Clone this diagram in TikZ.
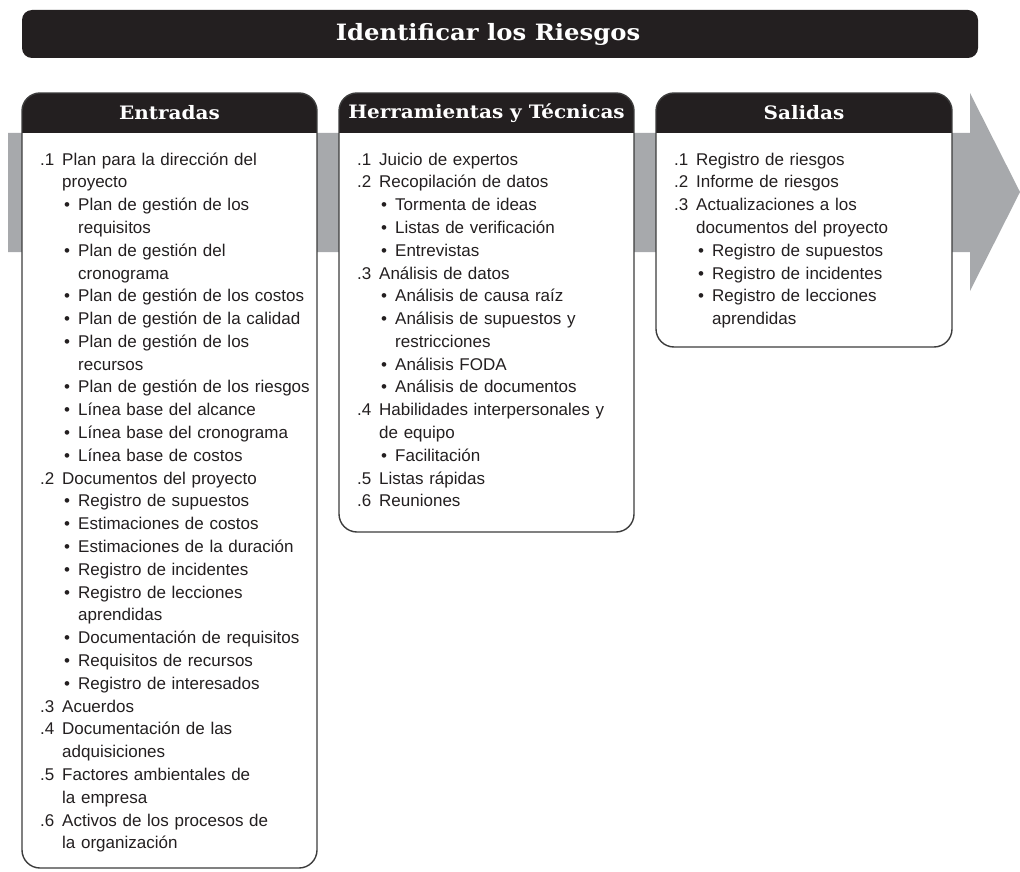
\documentclass[tikz,border=0pt]{standalone}
\usepackage{fontspec}
\setmainfont{Liberation Sans}
\newfontfamily\slabfont{DejaVu Serif}[FakeStretch=1.08]
\usetikzlibrary{positioning}
\definecolor{barra}{HTML}{231F20}
\definecolor{flecha}{HTML}{A7A9AC}
\definecolor{borde}{HTML}{3C3C3C}
\definecolor{texto}{HTML}{231F20}
\newcommand\nitem[2]{\par\noindent\hangindent=22pt\hangafter=1\makebox[22pt][l]{#1}#2}
\newcommand\bitem[1]{\par\noindent\hangindent=38pt\hangafter=1\hspace*{24pt}\makebox[14pt][l]{\textbullet}#1}
\newcommand\nl{\break}
\tikzset{
  titulo/.style={text=white,font=\slabfont\bfseries\fontsize{22.5}{24}\selectfont,inner sep=0pt},
  cabecera/.style={text=white,font=\slabfont\bfseries\fontsize{18.5}{20}\selectfont,inner sep=0pt},
  cuerpo/.style={text=texto,font=\fontsize{17}{22.8}\selectfont,text width=275pt,align=left,inner sep=0pt,anchor=north west},
  caja/.style={draw=borde,line width=1.4pt,rounded corners=18pt}
}
\begin{document}
\begin{tikzpicture}[x=1pt,y=-1pt]
\useasboundingbox (0,0) rectangle (1020,872);
\fill[flecha](8,133)--(970,133)--(970,93)--(1020,192)--(970,291)--(970,252)--(8,252)--cycle;
\fill[barra,rounded corners=10pt](22,10)rectangle(978,58);
\node[titulo](titulo)at(488,34){Identificar los Riesgos};
\foreach \xa/\xb/\yb/\nom/\tit in {22/317/868/entradas/Entradas,339/634/532/herramientas/Herramientas y Técnicas,656/952/347/salidas/Salidas}{
  \begin{scope}
    \path[clip,rounded corners=18pt](\xa,93)rectangle(\xb,\yb);
    \fill[white](\xa,93)rectangle(\xb,\yb);
    \fill[barra](\xa,93)rectangle(\xb,133);
  \end{scope}
  \draw[caja](\xa,93)rectangle(\xb,\yb);
  \node[cabecera](\nom)at({(\xa+\xb)/2},113){\tit};
}
\node[cuerpo](entradasTxt)at(40,142){%
\nitem{.1}{Plan para la dirección del\nl proyecto}
\bitem{Plan de gestión de los\nl requisitos}
\bitem{Plan de gestión del\nl cronograma}
\bitem{Plan de gestión de los costos}
\bitem{Plan de gestión de la calidad}
\bitem{Plan de gestión de los\nl recursos}
\bitem{Plan de gestión de los riesgos}
\bitem{Línea base del alcance}
\bitem{Línea base del cronograma}
\bitem{Línea base de costos}
\nitem{.2}{Documentos del proyecto}
\bitem{Registro de supuestos}
\bitem{Estimaciones de costos}
\bitem{Estimaciones de la duración}
\bitem{Registro de incidentes}
\bitem{Registro de lecciones\nl aprendidas}
\bitem{Documentación de requisitos}
\bitem{Requisitos de recursos}
\bitem{Registro de interesados}
\nitem{.3}{Acuerdos}
\nitem{.4}{Documentación de las\nl adquisiciones}
\nitem{.5}{Factores ambientales de\nl la empresa}
\nitem{.6}{Activos de los procesos de\nl la organización}\par};
\node[cuerpo](herramientasTxt)at(357,142){%
\nitem{.1}{Juicio de expertos}
\nitem{.2}{Recopilación de datos}
\bitem{Tormenta de ideas}
\bitem{Listas de verificación}
\bitem{Entrevistas}
\nitem{.3}{Análisis de datos}
\bitem{Análisis de causa raíz}
\bitem{Análisis de supuestos y\nl restricciones}
\bitem{Análisis FODA}
\bitem{Análisis de documentos}
\nitem{.4}{Habilidades interpersonales y\nl de equipo}
\bitem{Facilitación}
\nitem{.5}{Listas rápidas}
\nitem{.6}{Reuniones}\par};
\node[cuerpo](salidasTxt)at(674,142){%
\nitem{.1}{Registro de riesgos}
\nitem{.2}{Informe de riesgos}
\nitem{.3}{Actualizaciones a los\nl documentos del proyecto}
\bitem{Registro de supuestos}
\bitem{Registro de incidentes}
\bitem{Registro de lecciones\nl aprendidas}\par};
\end{tikzpicture}
\end{document}
